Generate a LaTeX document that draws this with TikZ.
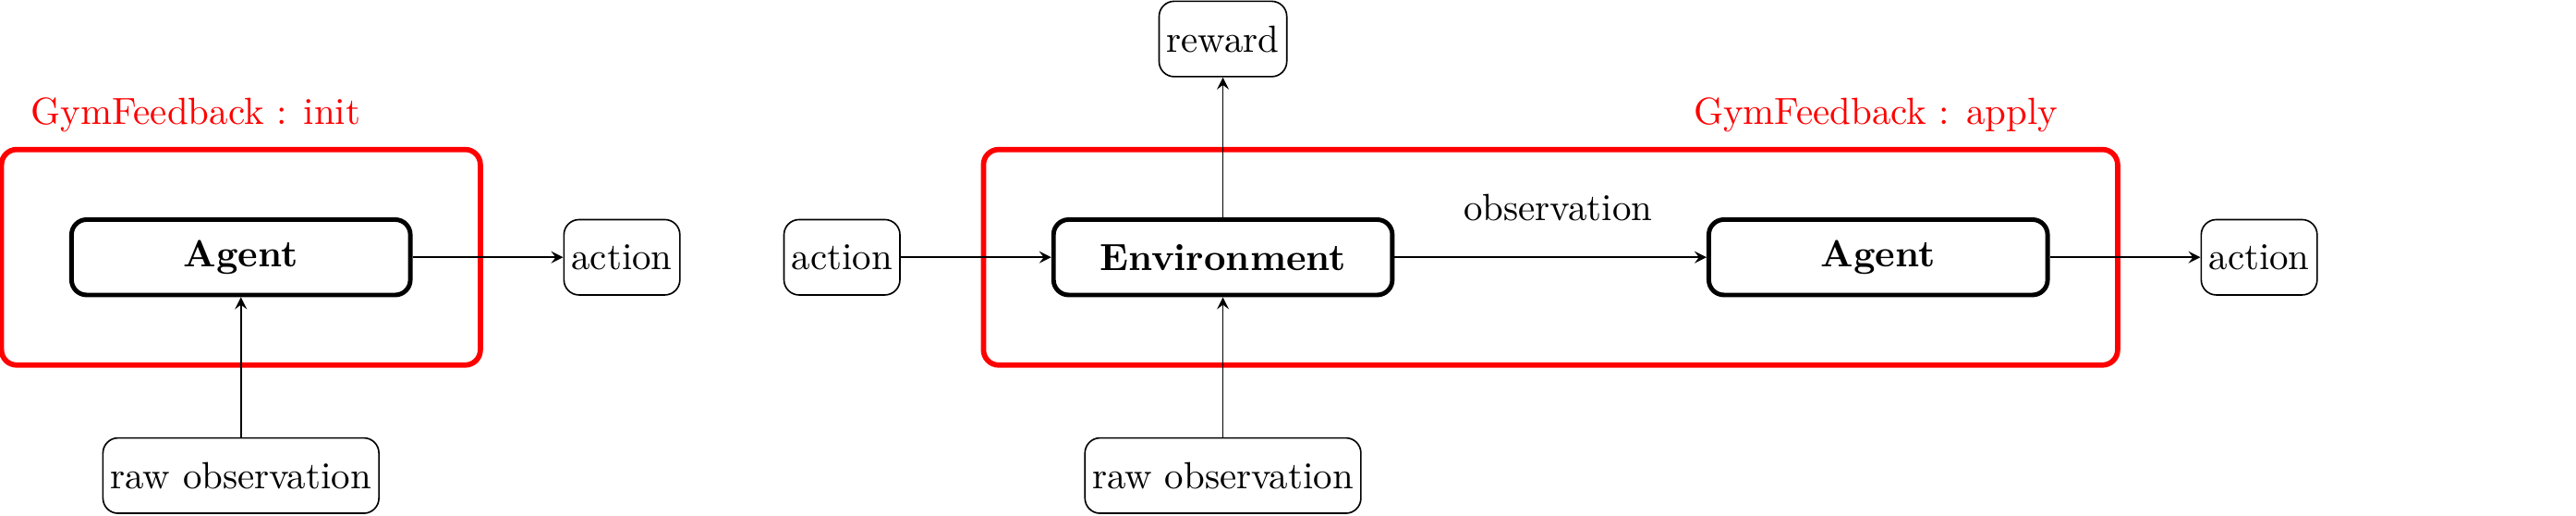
\documentclass[tikz,border=0pt]{standalone}
\usetikzlibrary{shapes.geometric, arrows, positioning, fit}
\tikzstyle{core} = [rectangle, rounded corners, minimum width=3.15cm, minimum height=0.7cm, text centered, draw=black, very thick, font=\bfseries]
\tikzstyle{signal} = [rectangle, rounded corners, minimum height=0.7cm, inner sep=2pt, text centered, draw=black]
\tikzstyle{wrapper} = [rectangle, rounded corners, draw=red, line width=1.4pt, inner sep=0.63cm]
\tikzstyle{arrow} = [->,>=stealth]

\begin{document}
\begin{tikzpicture}
[node distance=1.4cm,nodes={align=center}]
\useasboundingbox (0,-2.395) rectangle (23.95,2.39);

% init
\node (agentA) [core] at (2.24,0) {Agent};
\node (actA) [signal, right=1.4cm of agentA] {action};
\node (rawA) [signal, below=1.3cm of agentA] {raw observation};
\node (initbox) [wrapper, fit=(agentA)] {};
\node (initlabel) [text=red] at (1.82,1.32) {GymFeedback : init};

% apply
\node (env) [core] at (11.37,0) {Environment};
\node (actB) [signal, left=1.4cm of env] {action};
\node (reward) [signal, above=1.3cm of env] {reward};
\node (rawB) [signal, below=1.3cm of env] {raw observation};
\node (agentB) [core, right=2.9cm of env] {Agent};
\node (actC) [signal, right=1.4cm of agentB] {action};
\node (applybox) [wrapper, fit=(env)(agentB)] {};
\node (applylabel) [text=red] at (17.44,1.32) {GymFeedback : apply};

\draw [arrow] (agentA) -- (actA);
\draw [arrow] (rawA) -- (agentA);
\draw [arrow] (actB) -- (env);
\draw [arrow] (env) -- (reward);
\draw [arrow] (rawB) -- (env);
\draw [arrow] (env) -- node[above=6pt, xshift=2pt] {observation}(agentB);
\draw [arrow] (agentB) -- (actC);

\end{tikzpicture}
\end{document}
